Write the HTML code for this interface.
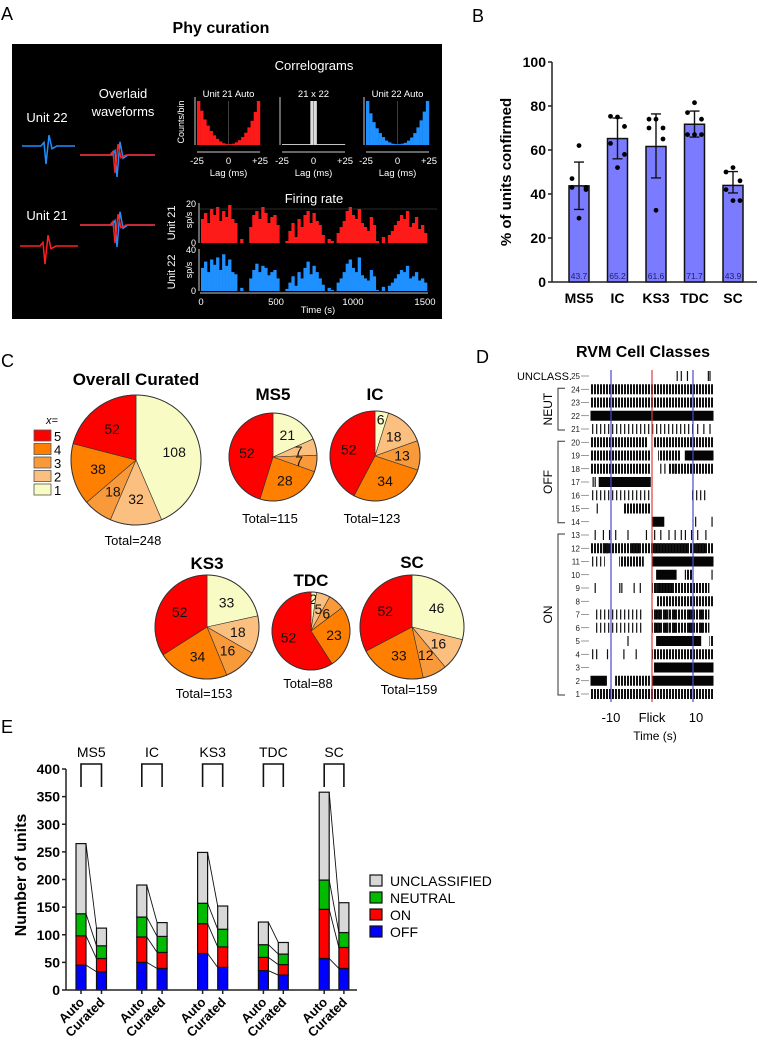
<!DOCTYPE html>
<html><head><meta charset="utf-8">
<style>
html,body{margin:0;padding:0;background:#fff;}
svg{display:block;font-family:"Liberation Sans",sans-serif;}
</style></head>
<body>
<svg id="fig" width="761" height="1049" viewBox="0 0 761 1049" xmlns="http://www.w3.org/2000/svg">
<defs>
<pattern id="densePat" width="3" height="10" patternUnits="userSpaceOnUse"><rect x="0" y="0" width="2" height="10" fill="#111"/></pattern>
<pattern id="lightPat" width="4" height="10" patternUnits="userSpaceOnUse"><rect x="0" y="0" width="1.3" height="10" fill="#222"/></pattern>
</defs>
</svg>
<script>
// ---------- DATA ----------
// Panel A
const fr21 = [12,15,10,17,14,18,11,16,13,19,12,10,0,2,0,0,8,14,16,12,18,15,10,13,14,9,0,0,1,6,10,3,12,8,14,16,10,15,11,9,4,0,2,1,0,5,8,11,16,18,14,12,17,10,8,6,13,9,1,0,3,0,4,6,9,11,14,12,16,8,10,13,7,9,5];
const fr22 = [22,28,18,30,25,32,20,35,24,30,18,16,0,3,0,0,12,20,26,18,24,22,15,18,20,12,0,0,2,8,14,5,18,12,22,28,16,24,18,12,6,0,3,1,0,8,12,18,26,30,22,18,32,15,12,10,20,14,1,0,4,0,5,8,12,16,20,18,24,12,14,18,10,12,8];
const acg21 = [1,.78,.58,.44,.32,.22,.14,.08,.04,.02,.02,.03,.06,.11,.18,.28,.4,.55,.75,1];
const acg22 = [1,.72,.52,.38,.27,.18,.1,.06,.03,.02,.02,.03,.05,.1,.17,.27,.4,.56,.76,1];
const ccg = [.02,.02,.02,.02,.02,.02,.02,.02,.02,1,1,.02,.02,.02,.02,.02,.02,.02,.02,.02];
// Panel B
const bCats = ["MS5","IC","KS3","TDC","SC"];
const bMeans = [43.7,65.2,61.6,71.7,43.9];
const bErrHi = [54.5,74.5,76.4,77.7,50.2];
const bErrLo = [33,56,47.3,65.9,40.5];
const bDots = [[62,47,43,43,42,29],[75,75.3,70.7,63,58,52],[74,74,70,70,65,32.6],[81.5,77,74,67,67,67],[52,50,46,42,37,37]];
const bTicks = [0,20,40,60,80,100];
// Panel C
const pieNames = ["Overall Curated","MS5","IC","KS3","TDC","SC"];
const pieVals = [[108,32,18,38,52],[21,7,7,28,52],[6,18,13,34,52],[33,18,16,34,52],[2,5,6,23,52],[46,16,12,33,52]];
const pieTotals = [248,115,123,153,88,159];
// Panel D raster rows: solid, dense, light segments (s), ticks (s)
const rasterRows = [25,24,23,22,21,20,19,18,17,16,15,14,13,12,11,10,9,8,7,6,5,4,3,2,1];
const rasterSolid = [[],[],[],[[-15,15]],[],[],[[8,15]],[],[[-13,-0.3]],[],[],[[0,3]],[],[[-5,-3],[-12,-10.5],[0,9],[10.5,13]],[[0,15]],[[1,6]],[[1,5]],[],[[0.5,2],[3,4],[5,6],[9,10],[11.5,12.5]],[[0.5,2],[3,4],[5,6],[9,10],[11.5,12.5]],[[1,12]],[],[[0.5,15]],[[-15,-11],[0,15]],[]];
const rasterDense = [[],[[-15,15]],[[-15,15]],[],[],[[-15,-1],[0.5,15]],[[-15,-0.3],[1.5,7]],[[-15,-0.5],[4,15]],[],[],[[-7,-0.3]],[],[],[[-15,15]],[[-8,-2]],[[8,10]],[[0,14]],[[1,15]],[[0,14]],[[0,14]],[[14,15]],[[0,15]],[],[[-9,-0.5]],[[-15,15]]];
const rasterLight = [[],[],[],[],[[-15,10]],[],[],[],[],[[-15,-0.5],[9.5,13.5]],[],[],[],[],[[-15,-11.5]],[],[],[],[[-14,-2]],[[-14,-2]],[],[[-15,-13]],[],[],[]];
const rasterTicks = [[6,7,8.5,13.6,14],[],[],[],[11,12.5,14],[],[],[2,3,5.5],[-14.5,-14],[],[-13.5],[10.5,14.5],[-14,-12,-10.5,-9,-6,-1.5,0.5,2,4,5.5,7,8,9.5,11,13],[],[],[14.5],[-14,-8,-7.5,-4.5,-3],[],[],[],[-6],[-11,-7,-4],[],[],[]];
// Panel E
const eGroups = ["MS5","IC","KS3","TDC","SC"];
const eOffAuto = [45,50,66,35,57], eOnAuto = [53,46,54,24,89], eNeutAuto = [40,36,37,23,53], eUnclAuto = [127,58,92,41,159];
const eOffCur = [33,39,41,27,39], eOnCur = [24,29,37,19,38], eNeutCur = [23,29,32,19,27], eUnclCur = [32,25,42,21,54];
const eTicks = [0,50,100,150,200,250,300,350,400];

// ---------- HELPERS ----------
const NS = "http://www.w3.org/2000/svg";
const svg = document.getElementById("fig");
function mk(tag, attrs, parent){ const e=document.createElementNS(NS,tag); for(const k in attrs) e.setAttribute(k,attrs[k]); (parent||svg).appendChild(e); return e; }
function tx(str, attrs, parent){ const e=mk("text",attrs,parent); e.textContent=str; return e; }
function g(parent){ return mk("g",{},parent); }

// ---------- PANEL A ----------
let t;
t = tx("A",{x:1,y:20,"font-size":18});


t = tx("Phy curation",{x:221,y:33,"font-size":16,"font-weight":"bold","text-anchor":"middle"});


const pa = g();


mk("rect",{x:12,y:44,width:430,height:275,fill:"#000"},pa);
function wtext(s,x,y,fs,extra){ const e=tx(s,Object.assign({x:x,y:y,"font-size":fs,fill:"#fff","text-anchor":"middle"},extra||{}),pa); return e; }
t = wtext("Unit 22",47,122,13);  
t = wtext("Overlaid",123,98,13);  
t = wtext("waveforms",123,116,13);  
t = wtext("Unit 21",47,220,13);  
function wave(x0,x1,cx,y0,col,sc){ return "M"+x0+" "+y0+" L"+(cx-6)+" "+y0+" L"+(cx-3)+" "+(y0-4*sc)+" L"+(cx-1)+" "+(y0+20*sc)+" L"+(cx+2)+" "+(y0-12*sc)+" L"+(cx+5)+" "+(y0+3*sc)+" L"+(cx+10)+" "+y0+" L"+x1+" "+y0; }
t = mk("path",{d:wave(22,75,47,146,"",0.9),stroke:"#1e90ff","stroke-width":1.5,fill:"none"},pa);  
t = mk("path",{d:wave(20,78,46,246,"",0.9),stroke:"#ff2020","stroke-width":1.5,fill:"none"},pa);  
[[155],[225]].forEach((p,i)=>{
  const y=p[0];
  let e=mk("path",{d:wave(80,155,118,y,"",1.1),stroke:"#1e90ff","stroke-width":1.5,fill:"none"},pa);
   
  e=mk("path",{d:wave(80,155,116,y,"",0.9),stroke:"#ff2020","stroke-width":1.5,fill:"none"},pa);
   
});
t = wtext("Correlograms",314,70,13);  
const ccgs = [[acg21,197,"#ff1a1a","Unit 21 Auto"],[ccg,282,"#ddd","21 x 22"],[acg22,366,"#1e90ff","Unit 22 Auto"]];
ccgs.forEach((c,ci)=>{
  const vals=c[0], x0=c[1], w=63, yb=145, h=44;
  const cg=g(pa);
  
  
  const bw=w/vals.length;
  vals.forEach((v,i)=>{ const b=mk("rect",{x:x0+i*bw,y:yb-v*h,width:bw+0.2,height:v*h,fill:c[2]},cg);
      });
  mk("line",{x1:x0-2,y1:yb-48,x2:x0-2,y2:yb,stroke:"#ccc","stroke-width":1},cg);
  mk("line",{x1:x0+w/2,y1:yb-44,x2:x0+w/2,y2:yb,stroke:"#666","stroke-width":0.6},cg);
  mk("line",{x1:x0,y1:152,x2:x0+w,y2:152,stroke:"#ccc","stroke-width":1},cg);
  tx(c[3],{x:x0+w/2,y:97,"font-size":9.5,fill:"#fff","text-anchor":"middle"},cg);
  tx("-25",{x:x0,y:164,"font-size":9.5,fill:"#fff","text-anchor":"middle"},cg);
  tx("0",{x:x0+w/2,y:164,"font-size":9.5,fill:"#fff","text-anchor":"middle"},cg);
  tx("+25",{x:x0+w,y:164,"font-size":9.5,fill:"#fff","text-anchor":"middle"},cg);
  tx("Lag (ms)",{x:x0+w/2,y:176,"font-size":9.5,fill:"#fff","text-anchor":"middle"},cg);
});
t = wtext("Counts/bin",0,0,9,{transform:"translate(184,122) rotate(-90)"});  
t = wtext("Firing rate",314,203,13);  
function frPlot(vals,ymax,yb,h,col,name){
  const fg=g(pa);
  
  
  const x0=201,w=226,bw=w/vals.length;
  vals.forEach((v,i)=>{ const b=mk("rect",{x:x0+i*bw,y:yb-v/ymax*h,width:bw+0.3,height:v/ymax*h,fill:col},fg);
      });
  mk("line",{x1:199,y1:yb-h,x2:199,y2:yb,stroke:"#ccc","stroke-width":1},fg);
  tx(String(ymax),{x:196,y:yb-h+4,"font-size":9,fill:"#fff","text-anchor":"end"},fg);
  tx("0",{x:196,y:yb+3,"font-size":9,fill:"#fff","text-anchor":"end"},fg);
}
frPlot(fr21,20,243,40,"#ff1a1a","firing-rate-unit-21");
frPlot(fr22,40,291,42,"#1e90ff","firing-rate-unit-22");
mk("line",{x1:200,y1:209,x2:437,y2:209,stroke:"#555","stroke-width":0.6},pa);
mk("line",{x1:200,y1:293,x2:428,y2:293,stroke:"#ccc","stroke-width":1},pa);
t = wtext("Unit 21",0,0,11,{transform:"translate(175,223) rotate(-90)"});  
t = wtext("sp/s",0,0,9,{transform:"translate(192,220) rotate(-90)"});  
t = wtext("Unit 22",0,0,11,{transform:"translate(175,272) rotate(-90)"});  
t = wtext("sp/s",0,0,9,{transform:"translate(192,270) rotate(-90)"});  
[["0",201],["500",276],["1000",353],["1500",425]].forEach(a=>{ const e=wtext(a[0],a[1],305,9.5);   });
t = wtext("Time (s)",318,313,9.5);  

// ---------- PANEL B ----------
t = tx("B",{x:472,y:22,"font-size":18});


const pb=g();


const bY = v => 282 - v*2.2;
const bX = i => 579 + i*38.5;
bTicks.forEach(v=>{
  mk("line",{x1:548,y1:bY(v),x2:552,y2:bY(v),stroke:"#222","stroke-width":1.5},pb);
  const e=tx(String(v),{x:546,y:bY(v)+5,"font-size":14,"font-weight":"bold","text-anchor":"end"},pb);
   
});
bCats.forEach((c,i)=>{
  const x=bX(i);
  const r=mk("rect",{x:x-10,y:bY(bMeans[i]),width:20,height:bY(0)-bY(bMeans[i]),fill:"#7b7bff",stroke:"#111","stroke-width":1.5},pb);
   
  const eb=mk("path",{d:"M"+(x-5)+" "+bY(bErrHi[i])+" H"+(x+5)+" M"+x+" "+bY(bErrHi[i])+" V"+bY(bErrLo[i])+" M"+(x-5)+" "+bY(bErrLo[i])+" H"+(x+5),stroke:"#111","stroke-width":1.4,fill:"none"},pb);
   
  bDots[i].forEach((v,j)=>{
    const off = [0,-7,7,-7,7,0][j];
    const d=mk("circle",{cx:x+off,cy:bY(v),r:2.4,fill:"#000"},pb);
     
  });
  const lv=tx(String(bMeans[i]),{x:x,y:279,"font-size":8.5,fill:"#1c1c6e","text-anchor":"middle"},pb);
   
  const cl=tx(c,{x:x,y:303,"font-size":14,"font-weight":"bold","text-anchor":"middle"},pb);
   
});
mk("line",{x1:552,y1:bY(100),x2:552,y2:282,stroke:"#222","stroke-width":1.5},pb);
mk("line",{x1:552,y1:282,x2:757,y2:282,stroke:"#222","stroke-width":1.5},pb);
t=tx("% of units confirmed",{x:0,y:0,"font-size":15,"font-weight":"bold","text-anchor":"middle",transform:"translate(511,172) rotate(-90)"},pb);
 

// ---------- PANEL C ----------
t = tx("C",{x:1,y:367,"font-size":18});


const pieCols = ["#f8fcc4","#fbbf80","#f99a3a","#ff8000","#ff0000"];
const pieGeom = [[136,460,65],[273,457,44],[375,456,45],[207,627,52],[311,631,39],[412,627,52]];
const pieTitleY = [385,400,400,569,586,568];
const pieTotalY = [545,523,523,698,688,694];
pieNames.forEach((nm,pi)=>{
  const [cx,cy,r]=pieGeom[pi];
  const pg=g();
  
  
  const vals=pieVals[pi], tot=vals.reduce((a,b)=>a+b,0);
  let a0=0;
  vals.forEach((v,k)=>{
    const a1=a0+v/tot*2*Math.PI;
    const p=(a)=>[cx+r*Math.sin(a), cy-r*Math.cos(a)];
    const [x0,y0]=p(a0),[x1,y1]=p(a1);
    const s=mk("path",{d:"M"+cx+" "+cy+" L"+x0+" "+y0+" A"+r+" "+r+" 0 "+((a1-a0)>Math.PI?1:0)+" 1 "+x1+" "+y1+" Z",fill:pieCols[k],stroke:"#333","stroke-width":0.6},pg);
     
    const am=(a0+a1)/2, lr = v/tot<0.05 ? r*0.82 : r*0.6;
    const l=tx(String(v),{x:cx+lr*Math.sin(am),y:cy-lr*Math.cos(am)+5,"font-size":14,"text-anchor":"middle",fill:"#111"},pg);
     
    a0=a1;
  });
  mk("circle",{cx:cx,cy:cy,r:r,fill:"none",stroke:"#333","stroke-width":1},pg);
  const ti=tx(nm,{x:cx,y:pieTitleY[pi],"font-size":17,"font-weight":"bold","text-anchor":"middle"},pg);
   
  const to=tx("Total="+pieTotals[pi],{x:cx-3,y:pieTotalY[pi],"font-size":13,"text-anchor":"middle"},pg);
   
});
const pl=g();


tx("x=",{x:46,y:424,"font-size":11,"font-style":"italic"},pl);
[5,4,3,2,1].forEach((n,i)=>{
  const y=430+i*13.5;
  const b=mk("rect",{x:34,y:y,width:17,height:11,fill:pieCols[n-1],stroke:"#555","stroke-width":0.8},pl);
   
  const l=tx(String(n),{x:54,y:y+11,"font-size":13},pl);
   
});

// ---------- PANEL D ----------
t = tx("D",{x:476,y:363,"font-size":18});


const pd=g();


t=tx("RVM Cell Classes",{x:643,y:357,"font-size":16,"font-weight":"bold","text-anchor":"middle"},pd);
 
const dX = s => 652 + s*4.1;
const dY = r => 694 - (r-1)*13.25;
rasterRows.forEach((r,i)=>{
  const rg=g(pd);
  
  
  const y=dY(r)-5;
  rasterSolid[i].forEach(s=>mk("rect",{x:dX(s[0]),y:y,width:dX(s[1])-dX(s[0]),height:10,fill:"#050505"},rg));
  rasterDense[i].forEach(s=>mk("rect",{x:dX(s[0]),y:y,width:dX(s[1])-dX(s[0]),height:10,fill:"url(#densePat)"},rg));
  rasterLight[i].forEach(s=>mk("rect",{x:dX(s[0]),y:y,width:dX(s[1])-dX(s[0]),height:10,fill:"url(#lightPat)"},rg));
  rasterTicks[i].forEach(s=>mk("rect",{x:dX(s),y:y,width:1.2,height:10,fill:"#111"},rg));
  tx(String(r),{x:580,y:dY(r)+3,"font-size":8,"text-anchor":"end",fill:"#222"},rg);
  mk("line",{x1:581,y1:dY(r),x2:589,y2:dY(r),stroke:"#555","stroke-width":0.6},rg);
});
[[-10,"#4a4ad0"],[0,"#d84040"],[10,"#4a4ad0"]].forEach(v=>{
  const l=mk("line",{x1:dX(v[0]),y1:370,x2:dX(v[0]),y2:702,stroke:v[1],"stroke-width":1.2},pd);
   
});
[["-10",-10],["Flick",0],["10",10]].forEach(a=>{
  const e=tx(a[0],{x:dX(a[1])+(a[0]==="10"?3:0),y:722,"font-size":13,"text-anchor":"middle"},pd);
   
});
t=tx("Time (s)",{x:655,y:740,"font-size":12,"text-anchor":"middle"},pd);
 
t=tx("UNCLASS.",{x:572,y:380,"font-size":11,"text-anchor":"end"},pd);
 
[["NEUT",24,21],["OFF",20,14],["ON",13,1]].forEach(b=>{
  const y1=dY(b[1])-1, y2=dY(b[2])+1;
  const p=mk("path",{d:"M565 "+y1+" H558 V"+y2+" H565",stroke:"#333","stroke-width":1,fill:"none"},pd);
   
  const l=tx(b[0],{x:0,y:0,"font-size":12,"text-anchor":"middle",transform:"translate(552,"+((y1+y2)/2)+") rotate(-90)"},pd);
   
});

// ---------- PANEL E ----------
t = tx("E",{x:1,y:733,"font-size":18});


const pe=g();


const eY = v => 990 - v*0.5525;
const autoX = i => 81 + i*60.8, curX = i => 101.5 + i*60.6;
eTicks.forEach(v=>{
  mk("line",{x1:62,y1:eY(v),x2:66,y2:eY(v),stroke:"#222","stroke-width":1.5},pe);
  const e=tx(String(v),{x:60,y:eY(v)+5,"font-size":14,"font-weight":"bold","text-anchor":"end"},pe);
   
});
const segCols=["#0000ff","#ff0000","#00bb00","#d8d8d8"];
const segNames=["off","on","neutral","unclassified"];
eGroups.forEach((gname,i)=>{
  const A=[eOffAuto[i],eOnAuto[i],eNeutAuto[i],eUnclAuto[i]];
  const C=[eOffCur[i],eOnCur[i],eNeutCur[i],eUnclCur[i]];
  let ca=0, cc=0;
  const xa=autoX(i), xc=curX(i), hw=5;
  A.forEach((v,k)=>{
    const r=mk("rect",{x:xa-hw,y:eY(ca+v),width:2*hw,height:eY(ca)-eY(ca+v),fill:segCols[k],stroke:"#111","stroke-width":1.2},pe);
     
    const r2=mk("rect",{x:xc-hw,y:eY(cc+C[k]),width:2*hw,height:eY(cc)-eY(cc+C[k]),fill:segCols[k],stroke:"#111","stroke-width":1.2},pe);
     
    ca+=v; cc+=C[k];
    const ln=mk("line",{x1:xa+hw,y1:eY(ca),x2:xc-hw,y2:eY(cc),stroke:"#111","stroke-width":0.9},pe);
     
  });
  const br=mk("path",{d:"M"+xa+" 787 V764 H"+xc+" V787",stroke:"#111","stroke-width":1.6,fill:"none"},pe);
   
  const gl=tx(gname,{x:(xa+xc)/2,y:757,"font-size":14,"text-anchor":"middle"},pe);
   
  [["Auto",xa],["Curated",xc]].forEach(a=>{
    mk("line",{x1:a[1],y1:990,x2:a[1],y2:994,stroke:"#222","stroke-width":1.5},pe);
    const e=tx(a[0],{x:0,y:0,"font-size":13,"font-weight":"bold","text-anchor":"end",transform:"translate("+(a[1]+4)+",1003) rotate(-45)"},pe);
     
  });
});
mk("line",{x1:66,y1:eY(400),x2:66,y2:990,stroke:"#222","stroke-width":1.5},pe);
mk("line",{x1:66,y1:990,x2:357,y2:990,stroke:"#222","stroke-width":1.5},pe);
t=tx("Number of units",{x:0,y:0,"font-size":16,"font-weight":"bold","text-anchor":"middle",transform:"translate(26,875) rotate(-90)"},pe);
 
const el=g(pe);


[["UNCLASSIFIED",3],["NEUTRAL",2],["ON",1],["OFF",0]].forEach((a,i)=>{
  const y=875+i*17;
  const b=mk("rect",{x:370,y:y,width:12,height:11,fill:segCols[a[1]],stroke:"#111","stroke-width":1.2},el);
   
  const l=tx(a[0],{x:390,y:y+11,"font-size":14},el);
   
});
</script>
</body></html>
